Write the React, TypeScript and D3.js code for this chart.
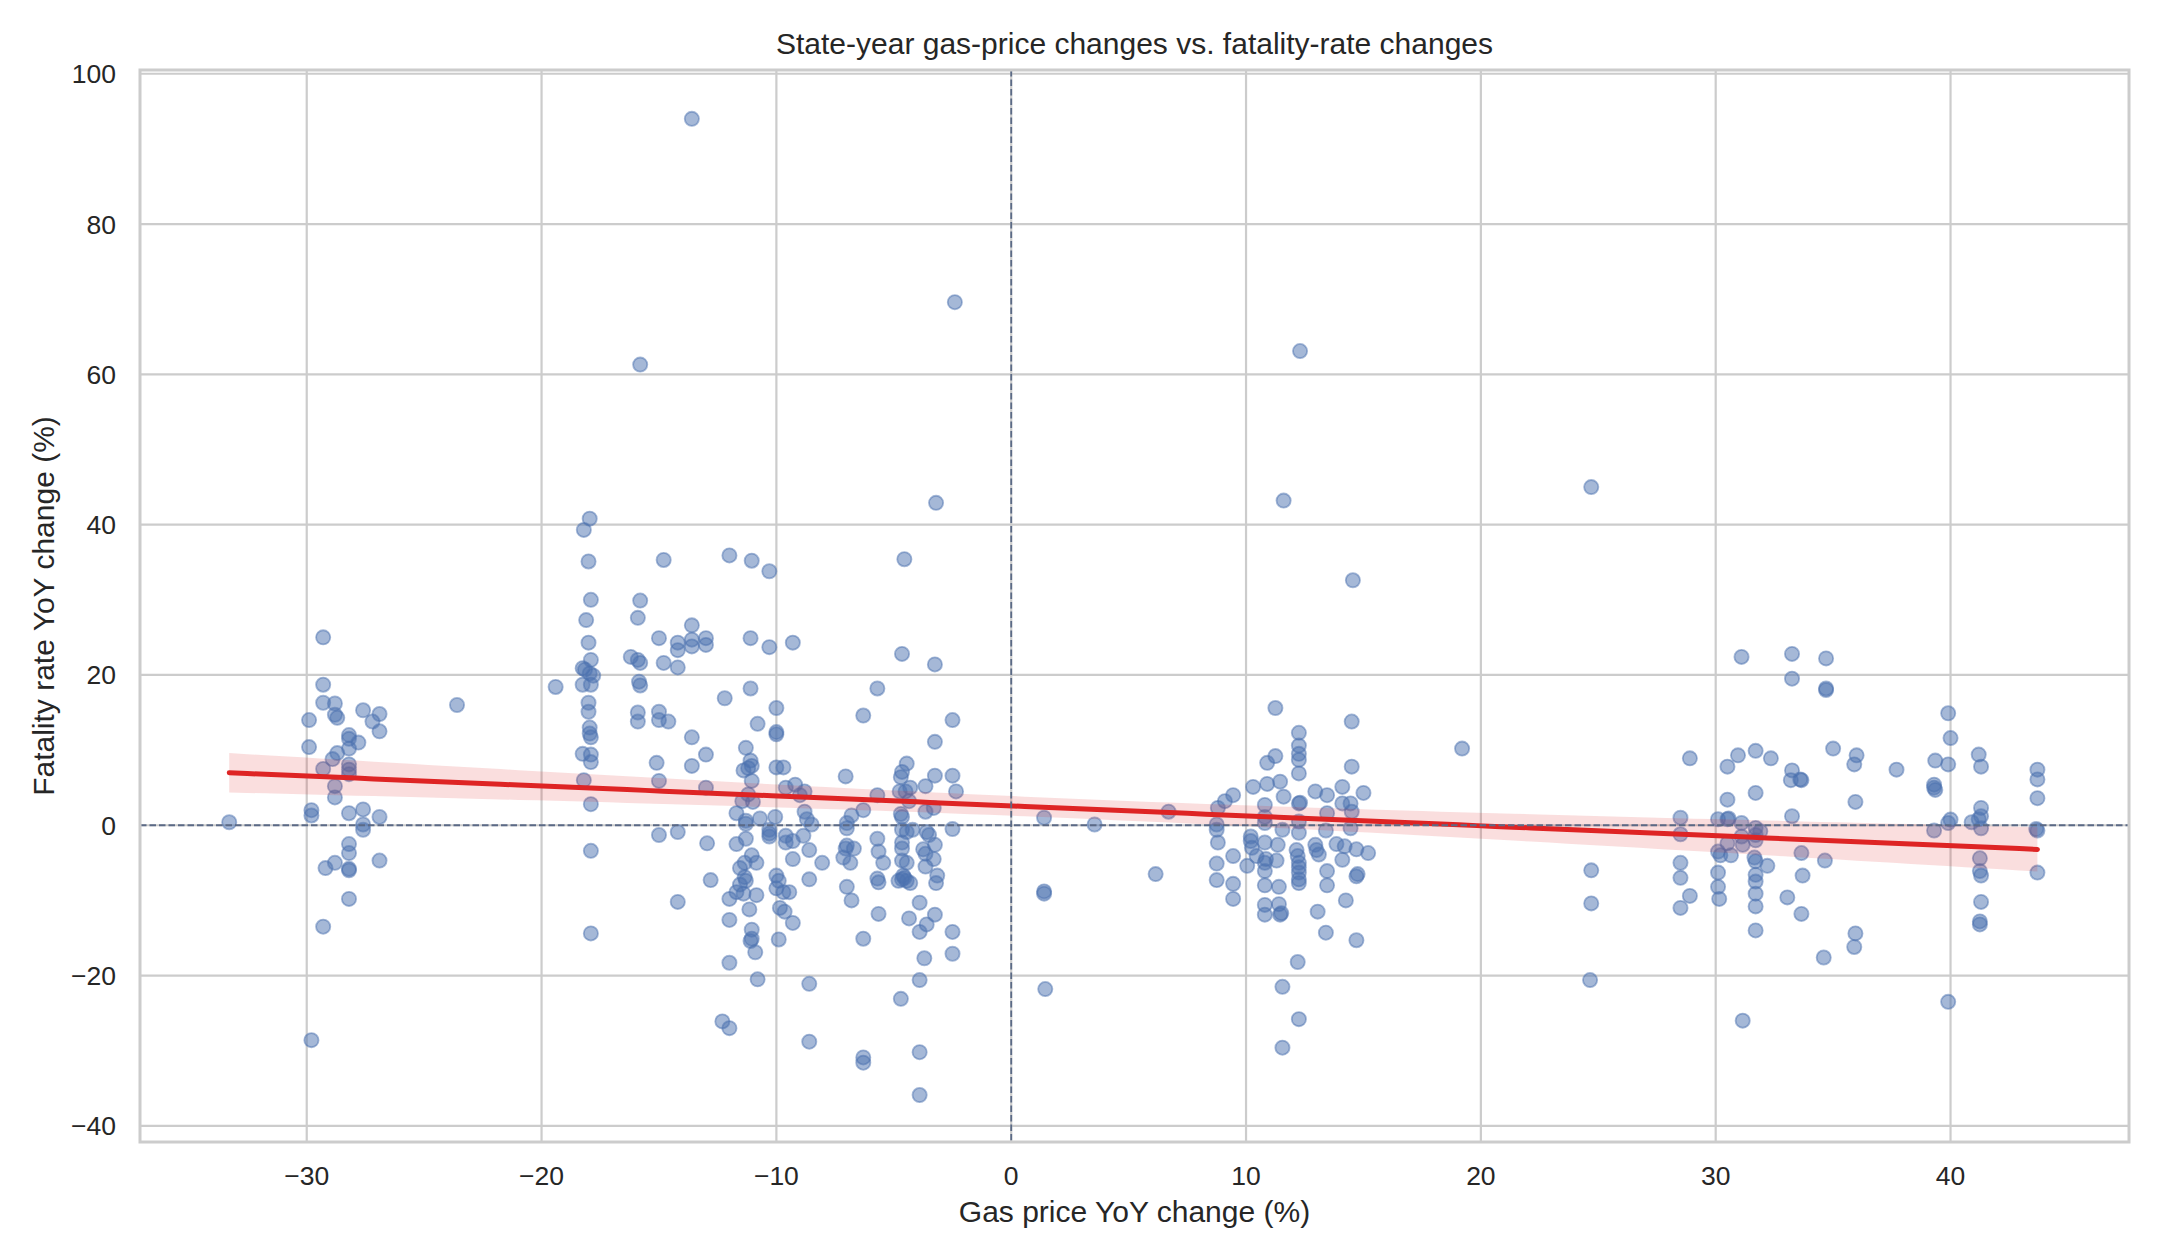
import { useEffect, useRef } from "react";
import * as d3 from "d3";

type Pt = [number, number];

// [gas price YoY change %, fatality rate YoY change %]
const bigDrops: Pt[] = [
  [-33.3, 0.4],
  [-29.3, 25.0], [-29.3, 18.7], [-29.3, 16.3], [-28.8, 16.2], [-28.8, 14.7], [-28.7, 14.3],
  [-29.9, 14.0], [-27.6, 15.3], [-26.9, 14.8], [-27.2, 13.8], [-26.9, 12.5], [-28.2, 12.0],
  [-28.2, 11.5], [-27.8, 11.0], [-28.2, 10.2], [-29.9, 10.4], [-28.7, 9.6], [-28.9, 8.8],
  [-28.2, 8.1], [-28.2, 7.4], [-28.2, 6.8], [-29.3, 7.5], [-28.8, 5.2], [-28.8, 3.7],
  [-29.8, 2.0], [-29.8, 1.3], [-28.2, 1.6], [-27.6, 2.1], [-26.9, 1.1], [-27.6, 0.1],
  [-27.6, -0.6], [-28.2, -2.5], [-28.2, -3.7], [-29.2, -5.7], [-28.8, -5.0], [-28.2, -5.8],
  [-28.2, -6.0], [-26.9, -4.7], [-28.2, -9.8], [-29.3, -13.5], [-29.8, -28.6],
  [-23.6, 16.0], [-19.4, 18.4],
];

const midDrops: Pt[] = [
  [-17.95, 40.8], [-18.2, 39.3], [-18.0, 35.1], [-17.9, 30.0], [-18.1, 27.3], [-18.0, 24.3],
  [-17.9, 22.0], [-18.25, 20.9], [-18.15, 20.7], [-17.95, 20.2], [-17.8, 19.9], [-18.25, 18.7],
  [-17.9, 18.7], [-18.0, 16.3], [-18.0, 15.1], [-17.95, 13.0], [-17.95, 12.2], [-17.9, 11.7],
  [-18.25, 9.5], [-17.9, 9.4], [-17.9, 8.4], [-18.2, 6.0], [-17.9, 2.8], [-17.9, -3.4],
  [-17.9, -14.4],
  [-15.8, 61.3], [-15.8, 29.9], [-15.9, 27.6], [-16.2, 22.4], [-15.9, 22.0], [-15.8, 21.6],
  [-15.85, 19.1], [-15.8, 18.6], [-15.9, 15.0], [-15.9, 13.8],
  [-14.8, 35.3], [-15.0, 24.9], [-14.8, 21.6], [-15.0, 15.1], [-15.0, 14.0], [-14.6, 13.8],
  [-15.1, 8.3], [-15.0, 5.9], [-15.0, -1.3],
  [-14.2, 24.3], [-14.2, 23.3], [-14.2, 21.0], [-13.6, 26.6], [-13.6, 24.7], [-13.6, 23.8],
  [-13.0, 24.9], [-13.0, 24.0], [-13.6, 11.7], [-13.6, 7.9], [-13.0, 9.4], [-13.0, 5.0],
  [-14.2, -0.9], [-12.95, -2.4], [-12.8, -7.3], [-14.2, -10.2], [-13.6, 94.0],
  [-12.0, 35.9], [-12.2, 16.9], [-11.7, -2.5], [-12.0, -9.8], [-12.0, -12.6], [-12.0, -18.3],
  [-12.3, -26.1], [-12.0, -27.0],
];

const tenPctDrops: Pt[] = [
  [-11.05, 35.2], [-10.3, 33.8], [-11.1, 24.9], [-10.3, 23.7], [-9.3, 24.3], [-11.1, 18.2],
  [-10.0, 15.6], [-10.8, 13.5], [-10.0, 12.4], [-10.0, 12.1], [-11.3, 10.3], [-11.1, 8.6],
  [-11.05, 7.9], [-11.2, 7.6], [-11.4, 7.3], [-10.0, 7.7], [-9.7, 7.7], [-11.05, 5.9],
  [-11.2, 4.1], [-11.45, 3.2], [-11.0, 3.1], [-11.7, 1.6], [-11.3, 0.6], [-11.3, 0.2],
  [-10.7, 0.9], [-10.05, 1.1], [-11.3, -1.8], [-10.3, -0.6], [-10.3, -1.5], [-9.6, -1.4],
  [-11.05, -4.0], [-10.85, -5.0], [-11.35, -5.0], [-11.55, -5.7], [-11.35, -6.9],
  [-11.3, -7.4], [-11.55, -7.9], [-11.7, -8.9], [-11.4, -9.1], [-10.85, -9.3],
  [-11.15, -11.2], [-11.05, -13.9], [-11.05, -15.1], [-11.1, -15.4], [-10.9, -16.9],
  [-10.8, -20.5], [-10.0, -6.7], [-9.9, -7.4], [-10.0, -8.4], [-9.7, -8.9], [-9.45, -8.9],
  [-9.85, -11.0], [-9.65, -11.5], [-9.3, -13.0], [-9.9, -15.2], [-9.3, -4.5], [-10.3, -1.1],
  [-9.6, -2.3], [-9.3, -2.1],
];

const smallDrops: Pt[] = [
  [-4.55, 35.4], [-4.65, 22.8], [-3.25, 21.4], [-5.7, 18.2], [-6.3, 14.6], [-2.5, 14.0],
  [-3.25, 11.1], [-4.45, 8.2], [-4.65, 7.1], [-4.7, 6.4], [-7.05, 6.5], [-3.25, 6.6],
  [-2.5, 6.6], [-3.65, 5.2], [-4.3, 5.0], [-2.35, 4.5], [-9.6, 5.0], [-9.2, 5.4], [-8.8, 4.5],
  [-9.0, 4.0], [-5.7, 4.0], [-4.75, 4.5], [-4.5, 4.5], [-4.35, 3.2], [-3.3, 2.3], [-3.65, 1.8],
  [-6.3, 2.0], [-6.8, 1.3], [-8.8, 1.8], [-8.7, 0.8], [-8.5, 0.1], [-7.0, -0.4], [-7.0, 0.3],
  [-4.7, 1.5], [-4.65, 1.1], [-4.65, -0.6], [-4.45, -0.9], [-4.2, -0.6], [-3.6, -0.9],
  [-3.5, -1.3], [-2.5, -0.5], [-8.85, -1.4], [-8.6, -3.3], [-8.05, -5.0], [-7.05, -3.1],
  [-7.0, -2.7], [-6.7, -3.1], [-7.15, -4.3], [-6.85, -5.0], [-5.7, -1.8], [-5.65, -3.5],
  [-5.45, -5.0], [-4.65, -2.3], [-4.65, -3.1], [-3.75, -3.2], [-3.65, -3.8], [-3.25, -2.6],
  [-3.3, -4.5], [-3.65, -5.5], [-4.65, -4.7], [-4.45, -5.0], [-4.65, -7.2], [-4.45, -7.4],
  [-4.8, -7.4], [-4.3, -7.7], [-4.6, -6.7], [-4.55, -7.0], [-5.7, -7.1], [-5.65, -7.6],
  [-3.15, -6.7], [-3.2, -7.7], [-8.6, -7.2], [-7.0, -8.2], [-6.8, -10.0], [-5.65, -11.8],
  [-4.35, -12.4], [-3.9, -10.3], [-3.9, -14.2], [-3.6, -13.2], [-3.25, -11.9], [-2.5, -14.2],
  [-2.5, -17.1], [-3.7, -17.7], [-6.3, -15.1], [-3.9, -20.6], [-4.7, -23.1], [-8.6, -21.1],
  [-8.6, -28.8], [-6.3, -30.9], [-6.3, -31.6], [-3.9, -30.2], [-3.9, -35.9], [-2.4, 69.6],
  [-3.2, 42.9],
];

const moderateRises: Pt[] = [
  [1.4, 1.0], [1.4, -8.8], [1.4, -9.1], [1.45, -21.8], [3.55, 0.1], [6.7, 1.8], [6.15, -6.5],
  [8.8, 2.3], [9.1, 3.2], [9.45, 4.0], [8.75, 0.1], [8.75, -0.6], [8.8, -2.3], [8.75, -5.1],
  [8.75, -7.3], [9.45, -4.1], [9.45, -7.8], [9.45, -9.8], [10.3, 5.1], [10.9, 5.5], [10.9, 8.3],
  [11.25, 9.2], [11.25, 15.6], [11.45, 5.8], [11.6, 3.8], [10.8, 2.7], [10.8, 1.1], [10.8, 0.3],
  [10.2, -1.5], [10.2, -2.1], [10.25, -3.0], [10.8, -2.3], [11.35, -2.6], [11.55, -0.6],
  [10.05, -5.4], [10.45, -4.1], [10.8, -5.0], [10.85, -4.5], [11.3, -4.7], [10.8, -6.1],
  [10.8, -8.0], [11.4, -8.2], [10.8, -10.6], [10.8, -11.9], [11.4, -10.5], [11.45, -11.9],
  [11.5, -11.7], [11.55, -21.5], [12.25, -25.8], [11.55, -29.6], [12.2, -18.2], [12.25, 12.3],
  [12.25, 10.6], [12.25, 9.5], [12.25, 8.7], [12.25, 6.9], [12.25, 2.9], [12.3, 3.0],
  [12.25, 0.5], [12.25, -1.0], [12.15, -3.3], [12.2, -4.1], [12.25, -5.0], [12.25, -5.6],
  [12.25, -6.3], [12.25, -7.2], [12.25, -7.7], [12.95, 4.5], [13.45, 4.0], [13.45, 1.6],
  [13.4, -0.7], [12.95, -2.6], [13.0, -3.3], [13.1, -3.9], [13.45, -6.1], [13.45, -8.0],
  [13.05, -11.5], [13.4, -14.3], [13.85, -2.5], [14.1, 5.1], [14.1, 2.9], [14.5, 13.8],
  [14.5, 7.8], [14.45, 2.9], [14.5, 1.8], [14.45, -0.4], [14.2, -2.8], [14.1, -4.6],
  [14.7, -3.2], [14.75, -6.5], [14.7, -6.8], [14.25, -10.0], [14.7, -15.3], [15.0, 4.3],
  [15.2, -3.7], [11.6, 43.2], [12.3, 63.1], [14.55, 32.6],
];

const largeRises: Pt[] = [
  [19.2, 10.2], [24.7, 45.0], [24.7, -6.0], [24.7, -10.4], [24.65, -20.6],
  [28.9, 8.9], [28.5, 1.0], [28.5, -1.2], [28.5, -5.0], [28.5, -7.0], [28.9, -9.4], [28.5, -11.0],
  [31.1, 22.4], [33.25, 22.8], [33.25, 19.5], [34.7, 22.2], [34.7, 18.0], [34.7, 18.2],
  [39.9, 14.9], [40.0, 11.6], [39.9, 8.1], [39.35, 8.6], [39.3, 5.4], [39.3, 5.0], [39.35, 4.7],
  [41.2, 9.4], [41.3, 7.8], [43.7, 7.4], [43.7, 6.1], [43.7, 3.6], [43.65, -0.5], [43.7, -0.7],
  [43.7, -6.3], [41.3, 2.3], [41.3, 1.2], [41.2, 0.8], [40.9, 0.4], [41.3, -0.4], [40.0, 0.75],
  [39.9, 0.3], [39.3, -0.7], [41.25, -4.4], [41.25, -6.1], [41.3, -6.7], [41.3, -10.2],
  [41.25, -12.8], [41.25, -13.2], [39.9, -23.5], [37.7, 7.4], [35.0, 10.2], [36.0, 9.3],
  [35.9, 8.1], [35.95, 3.1], [34.65, -4.7], [35.95, -14.4], [35.9, -16.2], [34.6, -17.6],
  [30.5, 7.8], [30.95, 9.3], [31.7, 9.9], [32.35, 8.9], [33.25, 7.3], [33.2, 6.0], [33.6, 6.1],
  [33.65, 6.0], [31.7, 4.3], [30.5, 3.4], [30.1, 0.8], [30.5, 0.8], [30.55, 0.9], [31.1, 0.3],
  [31.7, -0.35], [31.9, -0.8], [31.1, -1.5], [31.7, -1.3], [31.7, -2.0], [31.15, -2.6],
  [30.5, -2.4], [30.1, -3.5], [30.2, -4.0], [30.65, -4.0], [31.65, -4.3], [31.7, -4.8],
  [32.2, -5.4], [33.25, 1.2], [33.65, -3.7], [33.7, -6.7], [33.05, -9.6], [33.65, -11.8],
  [30.1, -6.3], [30.1, -8.2], [30.15, -9.8], [31.7, -6.6], [31.7, -7.5], [31.7, -9.1],
  [31.7, -10.8], [31.7, -14.0], [31.15, -26.0],
];

const xTicks = [-30, -20, -10, 0, 10, 20, 30, 40];
const yTicks = [-40, -20, 0, 20, 40, 60, 80, 100];

const FONT = "'Liberation Sans', Arial, sans-serif";

const App = () => {
  const svgRef = useRef<SVGSVGElement>(null);

  useEffect(() => {
    const points = [
      ...bigDrops,
      ...midDrops,
      ...tenPctDrops,
      ...smallDrops,
      ...moderateRises,
      ...largeRises,
    ];

    const margin = { top: 70, right: 31, bottom: 118, left: 140 };
    const width = 2160 - margin.left - margin.right;
    const height = 1260 - margin.top - margin.bottom;

    const svg = d3.select(svgRef.current);
    svg.selectAll("*").remove();

    const g = svg
      .append("g")
      .attr("transform", `translate(${margin.left},${margin.top})`);

    const x = d3.scaleLinear().domain([-37.1, 47.6]).range([0, width]);
    const y = d3.scaleLinear().domain([-42.15, 100.5]).range([height, 0]);

    // grid
    g.selectAll(".gx")
      .data(xTicks)
      .enter()
      .append("line")
      .attr("x1", (d) => x(d))
      .attr("x2", (d) => x(d))
      .attr("y1", 0)
      .attr("y2", height)
      .attr("stroke", "#cccccc")
      .attr("stroke-width", 2.2);
    g.selectAll(".gy")
      .data(yTicks)
      .enter()
      .append("line")
      .attr("x1", 0)
      .attr("x2", width)
      .attr("y1", (d) => y(d))
      .attr("y2", (d) => y(d))
      .attr("stroke", "#cccccc")
      .attr("stroke-width", 2.2);

    // scatter
    g.append("g")
      .selectAll("circle")
      .data(points)
      .enter()
      .append("circle")
      .attr("cx", (d) => x(d[0]))
      .attr("cy", (d) => y(d[1]))
      .attr("r", 7.1)
      .attr("fill", "#4C72B0")
      .attr("fill-opacity", 0.5)
      .attr("stroke", "#4C72B0")
      .attr("stroke-opacity", 0.5)
      .attr("stroke-width", 1.8);

    // least-squares fit with 95% band
    const n = points.length;
    const mx = d3.mean(points, (d) => d[0])!;
    const my = d3.mean(points, (d) => d[1])!;
    const sxx = d3.sum(points, (d) => (d[0] - mx) ** 2);
    const sxy = d3.sum(points, (d) => (d[0] - mx) * (d[1] - my));
    const slope = sxy / sxx;
    const icpt = my - slope * mx;
    const sse = d3.sum(points, (d) => (d[1] - (icpt + slope * d[0])) ** 2);
    const s = Math.sqrt(sse / (n - 2));
    const [xmin, xmax] = d3.extent(points, (d) => d[0]) as [number, number];
    const grid = d3.range(0, 101).map((i) => xmin + ((xmax - xmin) * i) / 100);
    const fit = grid.map((gx) => {
      const yh = icpt + slope * gx;
      const se = s * Math.sqrt(1 / n + (gx - mx) ** 2 / sxx);
      return { gx, yh, lo: yh - 1.97 * se, hi: yh + 1.97 * se };
    });

    g.append("path")
      .datum(fit)
      .attr(
        "d",
        d3
          .area<(typeof fit)[number]>()
          .x((d) => x(d.gx))
          .y0((d) => y(d.lo))
          .y1((d) => y(d.hi))
      )
      .attr("fill", "#e02424")
      .attr("fill-opacity", 0.15);

    g.append("path")
      .datum(fit)
      .attr(
        "d",
        d3
          .line<(typeof fit)[number]>()
          .x((d) => x(d.gx))
          .y((d) => y(d.yh))
      )
      .attr("fill", "none")
      .attr("stroke", "#de2424")
      .attr("stroke-width", 5)
      .attr("stroke-linecap", "round");

    // reference lines at zero
    g.append("line")
      .attr("x1", x(0))
      .attr("x2", x(0))
      .attr("y1", 0)
      .attr("y2", height)
      .attr("stroke", "#5b6a86")
      .attr("stroke-width", 1.8)
      .attr("stroke-dasharray", "6.5,3");
    g.append("line")
      .attr("x1", 0)
      .attr("x2", width)
      .attr("y1", y(0))
      .attr("y2", y(0))
      .attr("stroke", "#5b6a86")
      .attr("stroke-width", 1.8)
      .attr("stroke-dasharray", "6.5,3");

    // frame
    g.append("rect")
      .attr("x", 0)
      .attr("y", 0)
      .attr("width", width)
      .attr("height", height)
      .attr("fill", "none")
      .attr("stroke", "#cccccc")
      .attr("stroke-width", 3);

    // tick labels
    g.selectAll(".xt")
      .data(xTicks)
      .enter()
      .append("text")
      .attr("x", (d) => x(d))
      .attr("y", height + 43)
      .attr("text-anchor", "middle")
      .style("font-family", FONT)
      .style("font-size", "26.5px")
      .style("fill", "#262626")
      .text((d) => (d < 0 ? `\u2212${-d}` : `${d}`));

    g.selectAll(".yt")
      .data(yTicks)
      .enter()
      .append("text")
      .attr("x", -24)
      .attr("y", (d) => y(d) + 9.5)
      .attr("text-anchor", "end")
      .style("font-family", FONT)
      .style("font-size", "26.5px")
      .style("fill", "#262626")
      .text((d) => (d < 0 ? `\u2212${-d}` : `${d}`));

    // title and axis labels
    svg
      .append("text")
      .attr("x", margin.left + width / 2)
      .attr("y", 54)
      .attr("text-anchor", "middle")
      .style("font-family", FONT)
      .style("font-size", "30px")
      .style("fill", "#262626")
      .text("State-year gas-price changes vs. fatality-rate changes");

    svg
      .append("text")
      .attr("x", margin.left + width / 2)
      .attr("y", 1222)
      .attr("text-anchor", "middle")
      .style("font-family", FONT)
      .style("font-size", "30px")
      .style("fill", "#262626")
      .text("Gas price YoY change (%)");

    svg
      .append("text")
      .attr(
        "transform",
        `translate(54,${margin.top + height / 2}) rotate(-90)`
      )
      .attr("text-anchor", "middle")
      .style("font-family", FONT)
      .style("font-size", "30px")
      .style("fill", "#262626")
      .text("Fatality rate YoY change (%)");
  }, []);

  return (
    <svg
      ref={svgRef}
      width={2160}
      height={1260}
      style={{ position: "absolute", left: 0, top: 0, background: "#ffffff" }}
    />
  );
};

export default App;
